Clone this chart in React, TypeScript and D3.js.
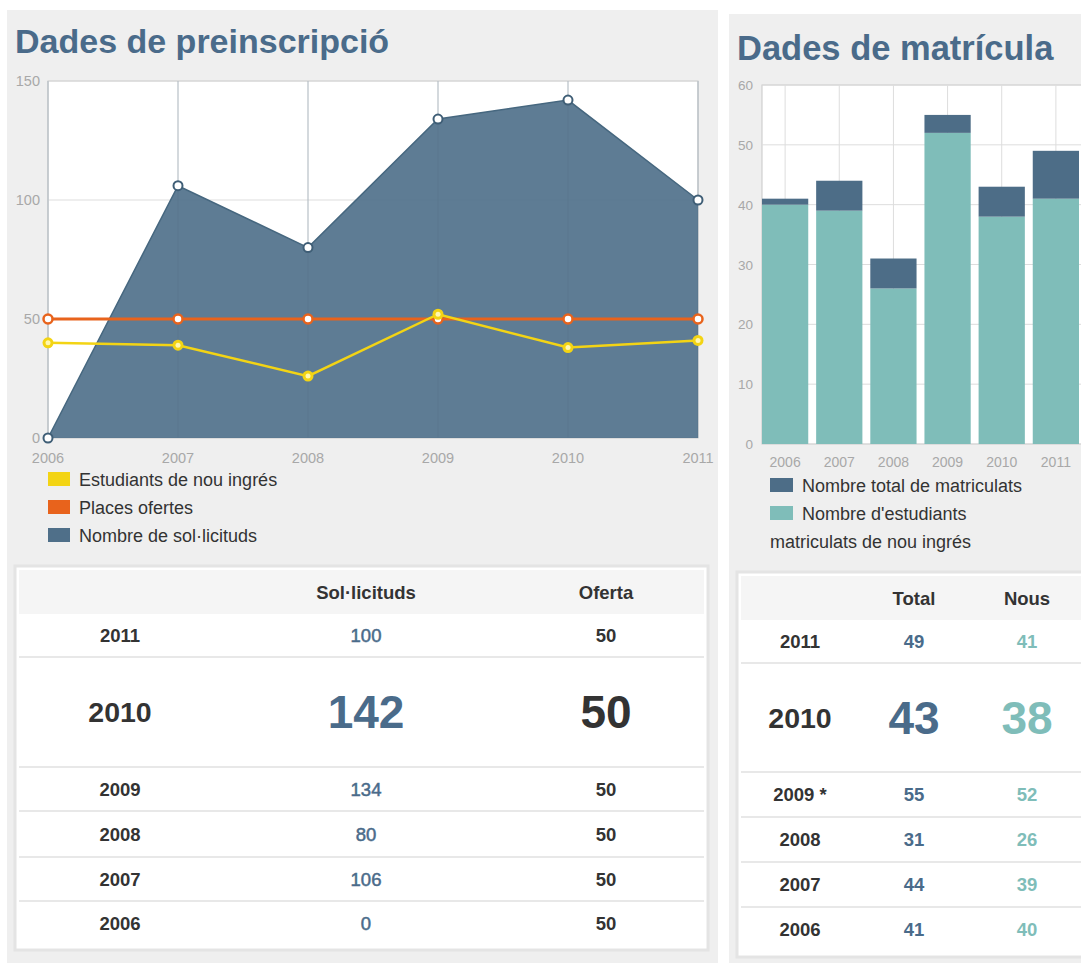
import React from "react";
import * as d3 from "d3";

const years = ["2006", "2007", "2008", "2009", "2010", "2011"];
const solicituds = [0, 106, 80, 134, 142, 100];
const placesOfertes = [50, 50, 50, 50, 50, 50];
const estudiantsNouIngres = [40, 39, 26, 52, 38, 41];
const preTicks = [0, 50, 100, 150];

const totalMatriculats = [41, 44, 31, 55, 43, 49];
const nousMatriculats = [40, 39, 26, 52, 38, 41];
const matTicks = [0, 10, 20, 30, 40, 50, 60];
const matYearLabels = ["2006", "2007", "2008", "2009 *", "2010", "2011"];

const FONT = "'Liberation Sans', Arial, Helvetica, sans-serif";
const TITLE = "#4a6b8a";
const AREA = "#4d6e88";
const ORANGE = "#e8631c";
const YELLOW = "#f3d414";
const TEAL = "#7fbdb9";
const DARK = "#4d6d87";
const TXT = "#333";
const TICK = "#a8a8a8";

export default function App() {
  // Left chart scales
  const x = d3.scalePoint<string>().domain(years).range([48, 698]);
  const y = d3.scaleLinear().domain([0, 150]).range([438, 81]);
  const pts = years.map((yr, i) => ({ yr, i }));
  const area = d3
    .area<{ yr: string; i: number }>()
    .x((d) => x(d.yr)!)
    .y0(y(0))
    .y1((d) => y(solicituds[d.i]));
  const areaLine = d3
    .line<{ yr: string; i: number }>()
    .x((d) => x(d.yr)!)
    .y((d) => y(solicituds[d.i]));
  const placesLine = d3
    .line<{ yr: string; i: number }>()
    .x((d) => x(d.yr)!)
    .y((d) => y(placesOfertes[d.i]));
  const nouLine = d3
    .line<{ yr: string; i: number }>()
    .x((d) => x(d.yr)!)
    .y((d) => y(estudiantsNouIngres[d.i]));

  // Right chart scales
  const xb = d3.scaleBand<string>().domain(years).range([762, 1079]).paddingInner(0.146).paddingOuter(0);
  const yb = d3.scaleLinear().domain([0, 60]).range([444, 85]);

  // Tables
  const revIdx = years.map((_, i) => years.length - 1 - i);
  const leftRowH = [43, 110, 44, 46, 44, 45];
  const rightRowH = [43, 109, 45, 45, 45, 45];
  const cum = (arr: number[], start: number) => {
    const out: number[] = [];
    let acc = start;
    arr.forEach((h) => {
      out.push(acc);
      acc += h;
    });
    return out;
  };
  const leftTops = cum(leftRowH, 614);
  const rightTops = cum(rightRowH, 620);
  const RF = 18.5;

  return (
    <svg
      width={1081}
      height={963}
      style={{ position: "absolute", left: 0, top: 0, fontFamily: FONT }}
    >
      <rect x={0} y={0} width={1081} height={963} fill="#fff" />
      {/* panels */}
      <rect x={7} y={10} width={711} height={953} fill="#efefef" />
      <rect x={729} y={14} width={352} height={949} fill="#efefef" />

      {/* Left title */}
      <text x={15} y={53} fontSize={34} fontWeight="bold" fill={TITLE}>
        Dades de preinscripció
      </text>

      {/* Left plot */}
      <rect x={48} y={81} width={650} height={357} fill="#fff" stroke="#c8c8c8" />
      {years.map((yr) => (
        <line key={"gx" + yr} x1={x(yr)} x2={x(yr)} y1={81} y2={438} stroke="#ddd" />
      ))}
      {preTicks.map((t) => (
        <g key={"gy" + t}>
          <line x1={48} x2={698} y1={y(t)} y2={y(t)} stroke="#ddd" />
          <text x={40} y={y(t) + 5} fontSize={14.5} fill={TICK} textAnchor="end">
            {t}
          </text>
        </g>
      ))}
      <path d={area(pts)!} fill={AREA} fillOpacity={0.9} />
      <path d={areaLine(pts)!} fill="none" stroke="#46677f" strokeWidth={1.5} />
      {years.map((yr) => (
        <line key={"gx2" + yr} x1={x(yr)} x2={x(yr)} y1={81} y2={438} stroke="#577389" strokeOpacity={0.35} />
      ))}
      {pts.map((d) => (
        <circle key={"ap" + d.i} cx={x(d.yr)} cy={y(solicituds[d.i])} r={4.5} fill="#fff" stroke="#3f5e76" strokeWidth={2} />
      ))}
      <path d={placesLine(pts)!} fill="none" stroke={ORANGE} strokeWidth={3} />
      {pts.map((d) => (
        <circle key={"pp" + d.i} cx={x(d.yr)} cy={y(placesOfertes[d.i])} r={4.5} fill="#fff" stroke={ORANGE} strokeWidth={2.5} />
      ))}
      <path d={nouLine(pts)!} fill="none" stroke={YELLOW} strokeWidth={2.5} />
      {pts.map((d) => (
        <g key={"np" + d.i}>
          <circle cx={x(d.yr)} cy={y(estudiantsNouIngres[d.i])} r={5.5} fill={YELLOW} />
          <circle cx={x(d.yr)} cy={y(estudiantsNouIngres[d.i])} r={2.5} fill="#fff7b0" />
        </g>
      ))}
      {years.map((yr) => (
        <text key={"xl" + yr} x={x(yr)} y={463} fontSize={14.5} fill={TICK} textAnchor="middle">
          {yr}
        </text>
      ))}

      {/* Left legend */}
      {[
        { c: YELLOW, t: "Estudiants de nou ingrés" },
        { c: ORANGE, t: "Places ofertes" },
        { c: "#4f6f89", t: "Nombre de sol·licituds" },
      ].map((l, i) => (
        <g key={"ll" + i}>
          <rect x={48} y={472 + i * 28} width={22} height={14} fill={l.c} />
          <text x={79} y={486 + i * 28} fontSize={18} fill={TXT}>
            {l.t}
          </text>
        </g>
      ))}

      {/* Left table */}
      <rect x={15} y={566} width={693} height={384} fill="#fff" stroke="#e4e4e4" strokeWidth={3} />
      <rect x={19} y={570} width={685} height={44} fill="#f5f5f5" />
      <text x={366} y={599} fontSize={RF} fontWeight="bold" fill={TXT} textAnchor="middle">
        Sol·licituds
      </text>
      <text x={606} y={599} fontSize={RF} fontWeight="bold" fill={TXT} textAnchor="middle">
        Oferta
      </text>
      {revIdx.map((idx, r) => {
        const top = leftTops[r];
        const h = leftRowH[r];
        const big = r === 1;
        const cy = top + h / 2;
        return (
          <g key={"lr" + r}>
            {r > 0 && <line x1={19} x2={704} y1={top} y2={top} stroke="#e8e8e8" strokeWidth={2} />}
            <text x={120} y={cy + (big ? 10 : 6.5)} fontSize={big ? 28.5 : RF} fontWeight="bold" fill={TXT} textAnchor="middle">
              {years[idx]}
            </text>
            <text
              x={366}
              y={cy + (big ? 16 : 6.5)}
              fontSize={big ? 46 : RF}
              fontWeight={big ? "bold" : "normal"}
              fill={TITLE}
              stroke={big ? "none" : TITLE}
              strokeWidth={0.5}
              textAnchor="middle"
            >
              {solicituds[idx]}
            </text>
            <text x={606} y={cy + (big ? 16 : 6.5)} fontSize={big ? 46 : RF} fontWeight="bold" fill={TXT} textAnchor="middle">
              {placesOfertes[idx]}
            </text>
          </g>
        );
      })}

      {/* Right title */}
      <text x={737} y={60} fontSize={34.5} fontWeight="bold" fill={TITLE}>
        Dades de matrícula
      </text>

      {/* Right plot */}
      <rect x={762} y={85} width={330} height={359} fill="#fff" stroke="#c8c8c8" />
      {years.map((yr) => (
        <line key={"bgx" + yr} x1={xb(yr)! + xb.bandwidth() / 2} x2={xb(yr)! + xb.bandwidth() / 2} y1={85} y2={444} stroke="#ddd" />
      ))}
      {matTicks.map((t) => (
        <g key={"bgy" + t}>
          <line x1={762} x2={1081} y1={yb(t)} y2={yb(t)} stroke="#ddd" />
          <text x={753} y={yb(t) + 5} fontSize={13.5} fill={TICK} textAnchor="end">
            {t}
          </text>
        </g>
      ))}
      {years.map((yr, i) => (
        <g key={"bar" + yr}>
          <rect x={xb(yr)} y={yb(nousMatriculats[i])} width={xb.bandwidth()} height={yb(0) - yb(nousMatriculats[i])} fill={TEAL} />
          <rect
            x={xb(yr)}
            y={yb(totalMatriculats[i])}
            width={xb.bandwidth()}
            height={yb(nousMatriculats[i]) - yb(totalMatriculats[i])}
            fill={DARK}
          />
        </g>
      ))}
      {years.map((yr) => (
        <text key={"bxl" + yr} x={xb(yr)! + xb.bandwidth() / 2} y={467} fontSize={14} fill={TICK} textAnchor="middle">
          {yr}
        </text>
      ))}

      {/* Right legend */}
      <rect x={770} y={478} width={23} height={14} fill={DARK} />
      <text x={802} y={492} fontSize={18} fill={TXT}>
        Nombre total de matriculats
      </text>
      <rect x={770} y={506} width={23} height={14} fill={TEAL} />
      <text x={802} y={520} fontSize={18} fill={TXT}>
        Nombre d'estudiants
      </text>
      <text x={770} y={548} fontSize={18} fill={TXT}>
        matriculats de nou ingrés
      </text>

      {/* Right table */}
      <rect x={737} y={572} width={352} height={385} fill="#fff" stroke="#e4e4e4" strokeWidth={3} />
      <rect x={741} y={576} width={345} height={44} fill="#f5f5f5" />
      <text x={914} y={605} fontSize={RF} fontWeight="bold" fill={TXT} textAnchor="middle">
        Total
      </text>
      <text x={1027} y={605} fontSize={RF} fontWeight="bold" fill={TXT} textAnchor="middle">
        Nous
      </text>
      {revIdx.map((idx, r) => {
        const top = rightTops[r];
        const h = rightRowH[r];
        const big = r === 1;
        const cy = top + h / 2;
        return (
          <g key={"rr" + r}>
            {r > 0 && <line x1={741} x2={1081} y1={top} y2={top} stroke="#e8e8e8" strokeWidth={2} />}
            <text x={800} y={cy + (big ? 10 : 6.5)} fontSize={big ? 28.5 : RF} fontWeight="bold" fill={TXT} textAnchor="middle">
              {matYearLabels[idx]}
            </text>
            <text x={914} y={cy + (big ? 16 : 6.5)} fontSize={big ? 46 : RF} fontWeight="bold" fill={TITLE} textAnchor="middle">
              {totalMatriculats[idx]}
            </text>
            <text x={1027} y={cy + (big ? 16 : 6.5)} fontSize={big ? 46 : RF} fontWeight="bold" fill={TEAL} textAnchor="middle">
              {nousMatriculats[idx]}
            </text>
          </g>
        );
      })}
    </svg>
  );
}
